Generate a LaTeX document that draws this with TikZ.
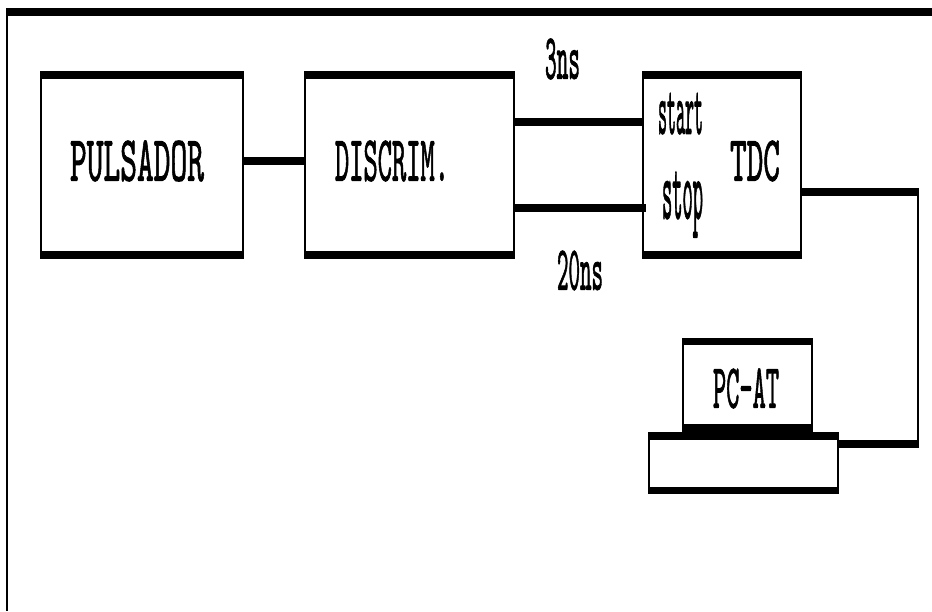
\documentclass[tikz,border=0pt]{standalone}
\usepackage{graphicx}
\usepackage{fontspec}
\newfontfamily\labelfont[FakeBold=1.6]{Latin Modern Mono}
\tikzset{
  barred/.style 2 args={draw=black,fill=white,line width=2pt,inner sep=0pt,outer sep=0pt,
    path picture={
      \fill[black] (path picture bounding box.north west) rectangle ([yshift=-#1pt]path picture bounding box.north east);
      \fill[black] (path picture bounding box.south west) rectangle ([yshift=#2pt]path picture bounding box.south east);
    }},
  blockbox/.style={barred={7}{7}},
  wire/.style={line width=8pt,draw=black,line cap=butt},
  thinwire/.style={line width=2pt,draw=black,line cap=butt},
  lbl/.style={inner sep=0pt,outer sep=0pt,font=\labelfont}
}
\newcommand{\fit}[3]{\resizebox{#1pt}{#2pt}{#3}}
\begin{document}
\begin{tikzpicture}[x=1pt,y=-1pt]
\useasboundingbox (0,0) rectangle (932,611);
% outer frame
\fill[black] (6,8) rectangle (932,16);
\fill[black] (6,8) rectangle (8,611);
% blocks
\node[blockbox,minimum width=202pt,minimum height=186pt] (puls) at (142,165) {};
\node[blockbox,minimum width=209pt,minimum height=186pt] (disc) at (409.5,165) {};
\node[blockbox,minimum width=158pt,minimum height=186pt] (tdc) at (722,165) {};
\node[barred={6}{7},minimum width=129pt,minimum height=92pt] (pc) at (747.5,385) {};
\node[barred={7}{6},minimum width=189pt,minimum height=60pt] (kbd) at (743.5,463) {};
% corner points of the output line
\coordinate (c1) at (919,192);
\coordinate (c2) at (918,192);
\coordinate (c3) at (918,447);
\coordinate (c4) at (919,443.5);
% connectors
\draw[wire] ([yshift=4pt]puls.east) -- ([yshift=4pt]disc.west);
\draw[wire] ([yshift=43pt]disc.east) -- ([yshift=43pt]tdc.west);
\draw[wire] ([yshift=-43pt]disc.east) -- ([xshift=3pt,yshift=-43pt]tdc.west);
\draw[wire] ([yshift=-27pt]tdc.east) -- (c1);
\draw[thinwire] (c2) -- (c3);
\draw[wire] (c4) -- ([yshift=19.5pt]kbd.east);
% labels
\node[lbl] (tpuls) at (137,161) {\fit{134}{40}{PULSADOR}};
\node[lbl] (tdisc) at (392,161) {\fit{114}{40}{DISCRIM.}};
\node[lbl] (t3ns) at (562.5,59) {\fit{35}{40}{3ns}};
\node[lbl] (tstart) at (680.5,113.5) {\fit{45}{41}{start}};
\node[lbl] (ttdc) at (755,161) {\fit{50}{40}{TDC}};
\node[lbl] (tstop) at (682.5,204.5) {\fit{41}{47}{stop}};
\node[lbl] (t20ns) at (580,270.5) {\fit{46}{39}{20ns}};
\node[lbl] (tpcat) at (746,388.5) {\fit{66}{39}{PC-AT}};
\end{tikzpicture}
\end{document}
